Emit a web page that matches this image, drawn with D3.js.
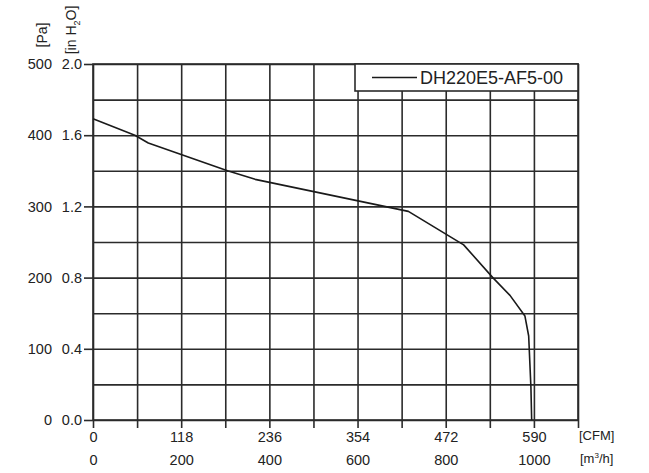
<!DOCTYPE html>
<html>
<head>
<meta charset="utf-8">
<script src="https://cdn.jsdelivr.net/npm/d3@7"></script>
<style>
  body { margin: 0; background: #fff; }
  svg { display: block; font-family: "Liberation Sans", Arial, sans-serif; }
  .tick text { font-size: 14.5px; fill: #222; }
</style>
</head>
<body>
<div id="chart"></div>
<script>
// Dados (CFM x Pa)
const flowCFM = [0, 56, 74, 180, 217, 422, 496, 535, 558, 578, 583, 586, 587];
const pressurePa = [423, 400, 389, 350, 338, 293, 246, 200, 175, 146, 118, 46, 0];

const cfmTicks = [0, 118, 236, 354, 472, 590];
const m3hTicks = [0, 200, 400, 600, 800, 1000];
const paTicks = [0, 100, 200, 300, 400, 500];
const inH2OTicks = [0, 0.4, 0.8, 1.2, 1.6, 2.0];
const gridCFM = d3.range(0, 650, 59);
const gridPa = d3.range(0, 501, 50);
const seriesName = "DH220E5-AF5-00";

const W = 649, H = 473;
const pLeft = 93, pRight = 578, pTop = 64, pBottom = 420;
const ink = "#2b2b2b";

const svg = d3.select("#chart").append("svg")
    .attr("width", W)
    .attr("height", H);

const x = d3.scaleLinear().domain([0, 649]).range([pLeft, pRight]);
const xM3h = d3.scaleLinear().domain([0, 1100]).range([pLeft, pRight]);
const y = d3.scaleLinear().domain([0, 500]).range([pBottom, pTop]);
const yIn = d3.scaleLinear().domain([0, 2]).range([pBottom, pTop]);

// Grade vertical (desce um pouco abaixo do eixo)
svg.append("g")
    .attr("transform", `translate(0,${pBottom + 8})`)
    .call(d3.axisBottom(x).tickValues(gridCFM).tickSize(-(pBottom + 8 - pTop)).tickFormat(""))
    .call(g => g.select(".domain").remove())
    .selectAll("line").attr("stroke", ink).attr("stroke-width", 1.6);

// Grade horizontal
svg.append("g")
    .attr("transform", `translate(${pLeft},0)`)
    .call(d3.axisLeft(y).tickValues(gridPa).tickSize(-(pRight - pLeft)).tickFormat(""))
    .call(g => g.select(".domain").remove())
    .selectAll("line").attr("stroke", ink).attr("stroke-width", 1.6);

// Borda
svg.append("rect")
    .attr("x", pLeft).attr("y", pTop)
    .attr("width", pRight - pLeft).attr("height", pBottom - pTop)
    .attr("fill", "none").attr("stroke", ink).attr("stroke-width", 1.6);

// Eixo esquerdo: inH2O com traço
svg.append("g")
    .attr("transform", `translate(${pLeft},0)`)
    .call(d3.axisLeft(yIn).tickValues(inH2OTicks).tickSize(9).tickPadding(2).tickFormat(d3.format(".1f")))
    .call(g => g.select(".domain").remove())
    .call(g => g.selectAll("line").attr("stroke", ink).attr("stroke-width", 1.6));

// Eixo esquerdo: Pa
svg.append("g")
    .attr("transform", `translate(52,0)`)
    .call(d3.axisLeft(y).tickValues(paTicks).tickSize(0).tickPadding(0))
    .call(g => g.select(".domain").remove());

// Eixo inferior: CFM
svg.append("g")
    .attr("transform", `translate(0,${pBottom})`)
    .call(d3.axisBottom(x).tickValues(cfmTicks).tickSize(0).tickPadding(12).tickFormat(d3.format("d")))
    .call(g => g.select(".domain").remove());

// Eixo inferior: m3/h
svg.append("g")
    .attr("transform", `translate(0,${pBottom})`)
    .call(d3.axisBottom(xM3h).tickValues(m3hTicks).tickSize(0).tickPadding(35).tickFormat(d3.format("d")))
    .call(g => g.select(".domain").remove());

// Unidades
svg.append("text").attr("x", 579).attr("y", 440)
    .attr("font-size", 13).attr("fill", "#222").text("[CFM]");
const m3 = svg.append("text").attr("x", 580).attr("y", 463)
    .attr("font-size", 13).attr("fill", "#222");
m3.append("tspan").text("[m");
m3.append("tspan").attr("font-size", 8).attr("dy", -5).text("3");
m3.append("tspan").attr("dy", 5).text("/h]");

svg.append("text")
    .attr("transform", "translate(47,35) rotate(-90)")
    .attr("text-anchor", "middle")
    .attr("font-size", 14).attr("fill", "#222")
    .text("[Pa]");
const inH = svg.append("text")
    .attr("transform", "translate(76,30) rotate(-90)")
    .attr("text-anchor", "middle")
    .attr("font-size", 14).attr("fill", "#222");
inH.append("tspan").text("[in H");
inH.append("tspan").attr("font-size", 9).attr("dy", 4).text("2");
inH.append("tspan").attr("dy", -4).text("O]");

// Curva
const line = d3.line()
    .x((d, i) => x(flowCFM[i]))
    .y(d => y(d));

svg.append("path")
    .datum(pressurePa)
    .attr("d", line)
    .attr("fill", "none")
    .attr("stroke", "#1a1a1a")
    .attr("stroke-width", 1.6)
    .attr("stroke-linejoin", "round");

// Legenda
svg.append("rect")
    .attr("x", 355).attr("y", pTop)
    .attr("width", pRight - 355).attr("height", 27)
    .attr("fill", "#fff").attr("stroke", ink).attr("stroke-width", 1.6);
svg.append("line")
    .attr("x1", 372).attr("x2", 417).attr("y1", 77.5).attr("y2", 77.5)
    .attr("stroke", "#1a1a1a").attr("stroke-width", 1.4);
svg.append("text")
    .attr("x", 420).attr("y", 83.5)
    .attr("font-size", 18).attr("fill", "#222")
    .text(seriesName);
</script>
</body>
</html>
